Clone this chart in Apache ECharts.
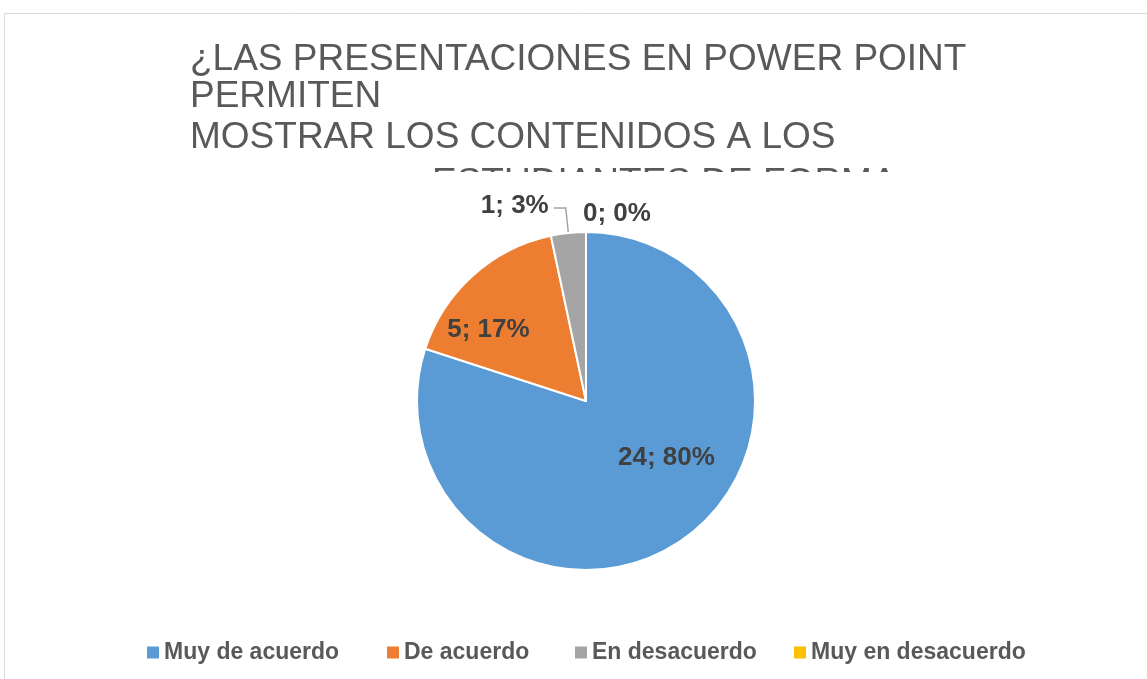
<!DOCTYPE html>
<html>
<head>
<meta charset="utf-8">
<script src="https://cdn.jsdelivr.net/npm/echarts@6/dist/echarts.min.js"></script>
<style>
  html, body { margin: 0; padding: 0; background: #ffffff; }
  #chart { width: 1147px; height: 679px; }
</style>
</head>
<body>
<div id="chart"></div>
<script>
// categorias y valores
var categories = ['Muy de acuerdo', 'De acuerdo', 'En desacuerdo', 'Muy en desacuerdo'];
var values = [24, 5, 1, 0];
var colors = ['#5B9BD5', '#ED7D31', '#A5A5A5', '#FFC000'];
var titleLines = [
    '¿LAS PRESENTACIONES EN POWER POINT',
    'PERMITEN',
    'MOSTRAR LOS CONTENIDOS A LOS',
    'ESTUDIANTES DE FORMA'
];

var chart = echarts.init(document.getElementById('chart'));

// posiciones de las etiquetas (ajuste fino)
var labelShift = [
    { dx: 29, dy: -14 },
    { dx: -39, dy: -6 },
    { dy: -2 },
    { x: 583, y: 214, align: 'left', verticalAlign: 'middle' }
];
var legendLeft = [142, 382, 570, 789];

var pieData = [];
for (var i = 0; i < categories.length; i++) {
    var item = { name: categories[i], value: values[i], itemStyle: { color: colors[i] } };
    if (i < 2) {
        item.label = { position: 'inside' };
    } else if (i == 3) {
        item.labelLine = { show: false };
    }
    pieData.push(item);
}

var legends = [];
for (var j = 0; j < categories.length; j++) {
    legends.push({
        left: legendLeft[j],
        top: 636,
        icon: 'rect',
        itemWidth: 12,
        itemHeight: 12,
        selectedMode: false,
        itemStyle: { borderWidth: 0 },
        data: [categories[j]],
        textStyle: {
            fontFamily: 'Liberation Sans, Arial, sans-serif',
            fontSize: 23,
            fontWeight: 'bold',
            color: '#595959'
        }
    });
}

var titleY = [60, 97, 138, 184];
var titleX = [190, 190, 190, 432];
var graphics = [{
    type: 'rect',
    z: 0,
    shape: { x: 4.5, y: 13.5, width: 1200, height: 700 },
    style: { fill: '#ffffff', stroke: '#d9d9d9', lineWidth: 1 }
}];
for (var k = 0; k < titleLines.length; k++) {
    graphics.push({
        type: 'text',
        z: 1,
        x: titleX[k],
        y: titleY[k],
        style: {
            text: titleLines[k],
            fontFamily: 'Liberation Sans, Arial, sans-serif',
            fontSize: 37,
            fill: '#595959',
            verticalAlign: 'middle'
        }
    });
}
// el area del grafico tapa la ultima linea del titulo
graphics.push({
    type: 'rect',
    z: 2,
    shape: { x: 180, y: 172, width: 820, height: 60 },
    style: { fill: '#ffffff' }
});

var option = {
    backgroundColor: '#ffffff',
    animation: false,
    graphic: graphics,
    legend: legends,
    series: [{
        type: 'pie',
        z: 3,
        center: [586, 401],
        radius: 169,
        startAngle: 90,
        clockwise: true,
        avoidLabelOverlap: false,
        percentPrecision: 0,
        itemStyle: { borderColor: '#ffffff', borderWidth: 2 },
        label: {
            show: true,
            position: 'outside',
            formatter: '{c}; {d}%',
            fontFamily: 'Liberation Sans, Arial, sans-serif',
            fontSize: 26,
            fontWeight: 'bold',
            color: '#404040'
        },
        labelLine: { show: true, length: 25, length2: 12, lineStyle: { width: 1.5 } },
        labelLayout: function (p) {
            return labelShift[p.dataIndex];
        },
        data: pieData
    }]
};
chart.setOption(option);
</script>
</body>
</html>
